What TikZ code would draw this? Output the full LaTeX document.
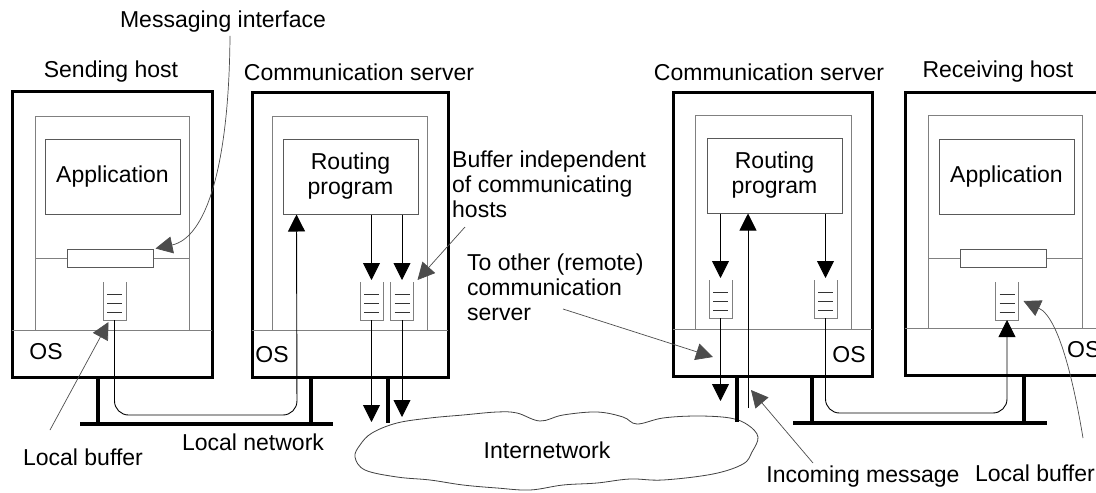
\documentclass[tikz,border=0pt]{standalone}
\usepackage{fontspec}
\setmainfont{Liberation Sans}
\usetikzlibrary{arrows.meta}

\tikzset{
  lbl/.style={font=\fontsize{23}{25}\selectfont, inner sep=3pt},
  hostframe/.style={line width=3pt},
  inframe/.style={gray, line width=1pt},
  progbox/.style={lbl, draw=gray!70!black, line width=1pt, minimum width=135pt, minimum height=75pt, inner sep=0pt},
  ifbox/.style={draw=gray!70!black, fill=white, line width=1pt, minimum width=86pt, minimum height=18pt, inner sep=0pt},
  bufnode/.style={minimum width=23pt, minimum height=38pt, inner sep=0pt, outer sep=0pt},
  flow/.style={black, line width=0.9pt, -{Triangle[length=17pt,width=17pt]}},
  ptr/.style={gray!60!black, line width=0.7pt, -{Triangle[length=17pt,width=17pt]}},
  net/.style={line width=4pt},
}

\newcommand{\bufstack}[3]{%
  \node[bufnode] (#1) at (#2,#3) {};
  \draw[inframe] (#1.north west) -- (#1.south west) -- (#1.south east) -- (#1.north east);
  \foreach \d in {12,21,30}
    \draw[gray!40!black, line width=0.8pt] ([xshift=4pt,yshift=-\d pt]#1.north west) -- ([xshift=-4pt,yshift=-\d pt]#1.north east);
}

\begin{document}
\begin{tikzpicture}[x=1pt,y=-1pt]
  \useasboundingbox (0,0) rectangle (1096,493);

  % sending host
  \draw[hostframe] (12,91) rectangle (212,377);
  \draw[inframe] (35,330) -- (35,116) -- (189,116) -- (189,330);
  \draw[inframe] (12,330) -- (212,330);
  \node[progbox] (app1) at (112.5,176.5) {Application};
  \draw[inframe] (35,258) -- (189,258);
  \node[ifbox] (mi1) at (110,258) {};
  \bufstack{lb1}{114.5}{301}
  \node[lbl] (os1) at (46,352) {OS};

  % first communication server
  \draw[hostframe] (252,92) rectangle (448,377);
  \draw[inframe] (272,330) -- (272,116) -- (427,116) -- (427,330);
  \draw[inframe] (252,330) -- (448,330);
  \node[progbox, align=center] (rp1) at (350.5,176.5) {Routing\\program};
  \bufstack{sb1}{371.5}{301}
  \bufstack{sb2}{402}{301}
  \node[lbl] (os2) at (272,355) {OS};

  % second communication server
  \draw[hostframe] (673,92) rectangle (872,376);
  \draw[inframe] (695,329) -- (695,115) -- (851,115) -- (851,329);
  \draw[inframe] (673,329) -- (872,329);
  \node[progbox, align=center] (rp2) at (774.5,175.5) {Routing\\program};
  \bufstack{sb3}{720.5}{299}
  \bufstack{sb4}{825.5}{299}
  \node[lbl] (os3) at (849,355) {OS};

  % receiving host
  \draw[hostframe] (905,92) rectangle (1112,375);
  \draw[inframe] (928,328) -- (928,115) -- (1082,115) -- (1082,328);
  \draw[inframe] (905,328) -- (1112,328);
  \node[progbox] (app2) at (1006.5,176.5) {Application};
  \draw[inframe] (928,258) -- (1082,258);
  \node[ifbox] (mi2) at (1003.5,258) {};
  \bufstack{lb2}{1007}{301}
  \node[lbl, anchor=west] (os4) at (1064,350) {OS};

  % internetwork
  \draw[gray!50!black, line width=0.8pt, fill=white] plot[smooth cycle, tension=0.6] coordinates {
    (360,445) (372,433) (397,423) (430,418) (463,415) (497,412) (517,413) (540,421)
    (563,415) (597,412) (623,417) (637,424) (663,418) (697,416) (730,418) (748,425)
    (758,437) (752,452) (743,464) (713,474) (663,480) (630,479) (597,483) (563,485)
    (530,490) (497,488) (463,485) (430,480) (397,477) (365,470) (355,457)};
  \node[lbl] (inet) at (547,450) {Internetwork};

  % local networks
  \draw[net] (80,424) -- (333,424);
  \draw[net] (98,377) -- (98,424);
  \draw[net] (311,377) -- (311,424);
  \draw[net] (793,423) -- (1047,423);
  \draw[net] (812,376) -- (812,423);
  \draw[net] (1024,375) -- (1024,423);
  \draw[net] (388,377) -- (388,423);
  \draw[net] (737,376) -- (737,422);

  % message flow
  \coordinate (out1) at (371.5,422);
  \coordinate (out2) at (402,417);
  \coordinate (out3) at (720.5,401);
  \coordinate (in2) at (748,408);
  \draw[flow, rounded corners=14pt] (lb1.south) |- (297,415) -- ([xshift=14pt]rp1.south west);
  \draw[flow, shorten >=2pt] (rp1.south -| sb1) -- (sb1.north);
  \draw[flow, shorten >=2pt] (rp1.south -| sb2) -- (sb2.north);
  \draw[flow] (sb1.south) -- (out1);
  \draw[flow] (sb2.south) -- (out2);
  \draw[flow, shorten >=2pt] (rp2.south -| sb3) -- (sb3.north);
  \draw[flow, shorten >=2pt] (rp2.south -| sb4) -- (sb4.north);
  \draw[flow] (sb3.south) -- (out3);
  \draw[flow] (in2) -- (rp2.south -| in2);
  \draw[flow, rounded corners=14pt] (sb4.south) |- (1007,413) -- (lb2.south);

  % labels
  \node[lbl] (mil) at (223,22) {Messaging interface};
  \node[lbl] (shl) at (111,72) {Sending host};
  \node[lbl] (cs1l) at (359,72) {Communication server};
  \node[lbl] (cs2l) at (769,72) {Communication server};
  \node[lbl] (rhl) at (998,72) {Receiving host};
  \node[lbl, align=left, anchor=west] (bufl) at (449,184) {Buffer independent\\of communicating\\hosts};
  \node[lbl, align=left, anchor=west] (toth) at (464,287) {To other (remote)\\communication\\server};
  \node[lbl] (lb1l) at (83,457) {Local buffer};
  \node[lbl] (lnl) at (253,442) {Local network};
  \node[lbl] (incl) at (863,477) {Incoming message};
  \node[lbl, anchor=east] (lb2l) at (1098,473) {Local buffer};

  % pointers
  \coordinate (bp) at (465,227);
  \coordinate (tp) at (563,309);
  \coordinate (tt) at (713,357);
  \coordinate (lp1) at (50,430);
  \coordinate (ip) at (813,463);
  \coordinate (lp2) at (1083,438);
  \draw[ptr] ([xshift=7pt]mil.south) .. controls (229,170) and (205,238) .. ([xshift=2pt]mi1.north east);
  \draw[ptr] (bp) -- ([xshift=4pt,yshift=2pt]sb2.north east);
  \draw[ptr] (tp) -- (tt);
  \draw[ptr] (lp1) -- ([xshift=-6pt,yshift=-2pt]lb1.south);
  \draw[ptr] (ip) -- ([xshift=3pt,yshift=18pt]in2);
  \draw[ptr] (lp2) .. controls (1075,390) and (1060,318) .. ([xshift=5pt]lb2.east);
\end{tikzpicture}
\end{document}
